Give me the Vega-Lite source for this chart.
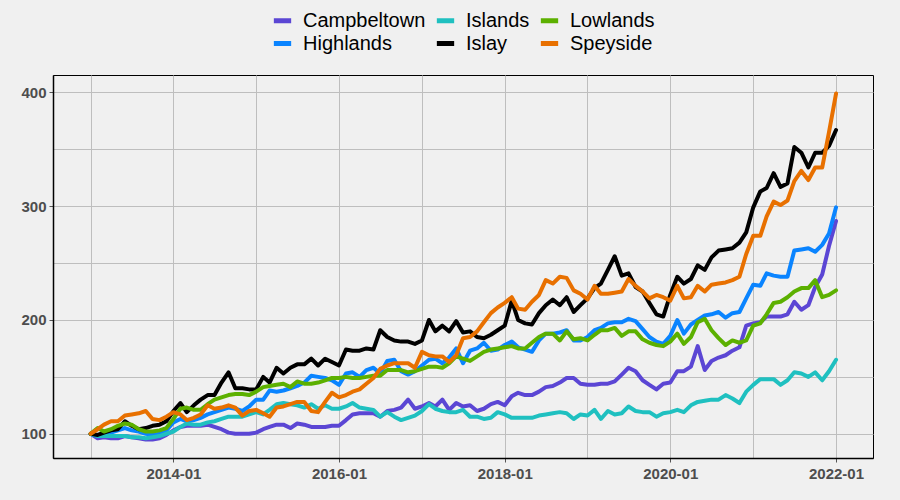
{
"$schema": "https://vega.github.io/schema/vega-lite/v6.json",
"width": 820,
"height": 383,
"autosize": {"type": "none"},
"padding": {"left": 53, "top": 75, "right": 27, "bottom": 42},
"background": "#F0F0F0",
"config": {
  "view": {"stroke": "black", "strokeWidth": 1},
  "font": "Liberation Sans",
  "axis": {"labelFont": "Liberation Sans", "labelFontWeight": "bold", "labelColor": "#4D4D4D", "labelFontSize": 15, "gridColor": "#BEBEBE", "gridWidth": 1, "domainColor": "black", "domainWidth": 1.5, "tickColor": "#555555", "tickSize": 4, "title": null}
},
"data": {"values": [
{"month":"2013-01","region":"Campbeltown","index":100},{"month":"2013-02","region":"Campbeltown","index":96},{"month":"2013-03","region":"Campbeltown","index":97},{"month":"2013-04","region":"Campbeltown","index":96},{"month":"2013-05","region":"Campbeltown","index":96},{"month":"2013-06","region":"Campbeltown","index":98},{"month":"2013-07","region":"Campbeltown","index":97},{"month":"2013-08","region":"Campbeltown","index":96},{"month":"2013-09","region":"Campbeltown","index":95},{"month":"2013-10","region":"Campbeltown","index":95},{"month":"2013-11","region":"Campbeltown","index":96},{"month":"2013-12","region":"Campbeltown","index":99},
{"month":"2014-01","region":"Campbeltown","index":103},{"month":"2014-02","region":"Campbeltown","index":106},{"month":"2014-03","region":"Campbeltown","index":107},{"month":"2014-04","region":"Campbeltown","index":107},{"month":"2014-05","region":"Campbeltown","index":107},{"month":"2014-06","region":"Campbeltown","index":108},{"month":"2014-07","region":"Campbeltown","index":106},{"month":"2014-08","region":"Campbeltown","index":104},{"month":"2014-09","region":"Campbeltown","index":101},{"month":"2014-10","region":"Campbeltown","index":100},{"month":"2014-11","region":"Campbeltown","index":100},{"month":"2014-12","region":"Campbeltown","index":100},
{"month":"2015-01","region":"Campbeltown","index":101},{"month":"2015-02","region":"Campbeltown","index":104},{"month":"2015-03","region":"Campbeltown","index":106},{"month":"2015-04","region":"Campbeltown","index":108},{"month":"2015-05","region":"Campbeltown","index":108},{"month":"2015-06","region":"Campbeltown","index":105},{"month":"2015-07","region":"Campbeltown","index":109},{"month":"2015-08","region":"Campbeltown","index":108},{"month":"2015-09","region":"Campbeltown","index":106},{"month":"2015-10","region":"Campbeltown","index":106},{"month":"2015-11","region":"Campbeltown","index":106},{"month":"2015-12","region":"Campbeltown","index":107},
{"month":"2016-01","region":"Campbeltown","index":107},{"month":"2016-02","region":"Campbeltown","index":112},{"month":"2016-03","region":"Campbeltown","index":117},{"month":"2016-04","region":"Campbeltown","index":118},{"month":"2016-05","region":"Campbeltown","index":118},{"month":"2016-06","region":"Campbeltown","index":118},{"month":"2016-07","region":"Campbeltown","index":115},{"month":"2016-08","region":"Campbeltown","index":120},{"month":"2016-09","region":"Campbeltown","index":121},{"month":"2016-10","region":"Campbeltown","index":123},{"month":"2016-11","region":"Campbeltown","index":130},{"month":"2016-12","region":"Campbeltown","index":122},
{"month":"2017-01","region":"Campbeltown","index":124},{"month":"2017-02","region":"Campbeltown","index":127},{"month":"2017-03","region":"Campbeltown","index":124},{"month":"2017-04","region":"Campbeltown","index":130},{"month":"2017-05","region":"Campbeltown","index":121},{"month":"2017-06","region":"Campbeltown","index":127},{"month":"2017-07","region":"Campbeltown","index":124},{"month":"2017-08","region":"Campbeltown","index":125},{"month":"2017-09","region":"Campbeltown","index":120},{"month":"2017-10","region":"Campbeltown","index":122},{"month":"2017-11","region":"Campbeltown","index":126},{"month":"2017-12","region":"Campbeltown","index":128},
{"month":"2018-01","region":"Campbeltown","index":125},{"month":"2018-02","region":"Campbeltown","index":133},{"month":"2018-03","region":"Campbeltown","index":136},{"month":"2018-04","region":"Campbeltown","index":134},{"month":"2018-05","region":"Campbeltown","index":134},{"month":"2018-06","region":"Campbeltown","index":137},{"month":"2018-07","region":"Campbeltown","index":141},{"month":"2018-08","region":"Campbeltown","index":142},{"month":"2018-09","region":"Campbeltown","index":145},{"month":"2018-10","region":"Campbeltown","index":149},{"month":"2018-11","region":"Campbeltown","index":149},{"month":"2018-12","region":"Campbeltown","index":144},
{"month":"2019-01","region":"Campbeltown","index":143},{"month":"2019-02","region":"Campbeltown","index":143},{"month":"2019-03","region":"Campbeltown","index":144},{"month":"2019-04","region":"Campbeltown","index":144},{"month":"2019-05","region":"Campbeltown","index":146},{"month":"2019-06","region":"Campbeltown","index":152},{"month":"2019-07","region":"Campbeltown","index":158},{"month":"2019-08","region":"Campbeltown","index":155},{"month":"2019-09","region":"Campbeltown","index":147},{"month":"2019-10","region":"Campbeltown","index":143},{"month":"2019-11","region":"Campbeltown","index":139},{"month":"2019-12","region":"Campbeltown","index":144},
{"month":"2020-01","region":"Campbeltown","index":145},{"month":"2020-02","region":"Campbeltown","index":155},{"month":"2020-03","region":"Campbeltown","index":155},{"month":"2020-04","region":"Campbeltown","index":159},{"month":"2020-05","region":"Campbeltown","index":177},{"month":"2020-06","region":"Campbeltown","index":156},{"month":"2020-07","region":"Campbeltown","index":164},{"month":"2020-08","region":"Campbeltown","index":167},{"month":"2020-09","region":"Campbeltown","index":169},{"month":"2020-10","region":"Campbeltown","index":173},{"month":"2020-11","region":"Campbeltown","index":176},{"month":"2020-12","region":"Campbeltown","index":195},
{"month":"2021-01","region":"Campbeltown","index":197},{"month":"2021-02","region":"Campbeltown","index":198},{"month":"2021-03","region":"Campbeltown","index":203},{"month":"2021-04","region":"Campbeltown","index":203},{"month":"2021-05","region":"Campbeltown","index":203},{"month":"2021-06","region":"Campbeltown","index":205},{"month":"2021-07","region":"Campbeltown","index":216},{"month":"2021-08","region":"Campbeltown","index":209},{"month":"2021-09","region":"Campbeltown","index":213},{"month":"2021-10","region":"Campbeltown","index":229},{"month":"2021-11","region":"Campbeltown","index":240},{"month":"2021-12","region":"Campbeltown","index":265},
{"month":"2022-01","region":"Campbeltown","index":287},
{"month":"2013-01","region":"Highlands","index":100},{"month":"2013-02","region":"Highlands","index":98},{"month":"2013-03","region":"Highlands","index":98},{"month":"2013-04","region":"Highlands","index":101},{"month":"2013-05","region":"Highlands","index":103},{"month":"2013-06","region":"Highlands","index":105},{"month":"2013-07","region":"Highlands","index":103},{"month":"2013-08","region":"Highlands","index":102},{"month":"2013-09","region":"Highlands","index":100},{"month":"2013-10","region":"Highlands","index":99},{"month":"2013-11","region":"Highlands","index":100},{"month":"2013-12","region":"Highlands","index":103},
{"month":"2014-01","region":"Highlands","index":110},{"month":"2014-02","region":"Highlands","index":113},{"month":"2014-03","region":"Highlands","index":111},{"month":"2014-04","region":"Highlands","index":112},{"month":"2014-05","region":"Highlands","index":114},{"month":"2014-06","region":"Highlands","index":117},{"month":"2014-07","region":"Highlands","index":119},{"month":"2014-08","region":"Highlands","index":121},{"month":"2014-09","region":"Highlands","index":123},{"month":"2014-10","region":"Highlands","index":122},{"month":"2014-11","region":"Highlands","index":120},{"month":"2014-12","region":"Highlands","index":124},
{"month":"2015-01","region":"Highlands","index":130},{"month":"2015-02","region":"Highlands","index":130},{"month":"2015-03","region":"Highlands","index":138},{"month":"2015-04","region":"Highlands","index":137},{"month":"2015-05","region":"Highlands","index":138},{"month":"2015-06","region":"Highlands","index":140},{"month":"2015-07","region":"Highlands","index":142},{"month":"2015-08","region":"Highlands","index":145},{"month":"2015-09","region":"Highlands","index":151},{"month":"2015-10","region":"Highlands","index":150},{"month":"2015-11","region":"Highlands","index":149},{"month":"2015-12","region":"Highlands","index":147},
{"month":"2016-01","region":"Highlands","index":143},{"month":"2016-02","region":"Highlands","index":153},{"month":"2016-03","region":"Highlands","index":154},{"month":"2016-04","region":"Highlands","index":150},{"month":"2016-05","region":"Highlands","index":156},{"month":"2016-06","region":"Highlands","index":158},{"month":"2016-07","region":"Highlands","index":153},{"month":"2016-08","region":"Highlands","index":164},{"month":"2016-09","region":"Highlands","index":165},{"month":"2016-10","region":"Highlands","index":155},{"month":"2016-11","region":"Highlands","index":152},{"month":"2016-12","region":"Highlands","index":155},
{"month":"2017-01","region":"Highlands","index":160},{"month":"2017-02","region":"Highlands","index":165},{"month":"2017-03","region":"Highlands","index":166},{"month":"2017-04","region":"Highlands","index":162},{"month":"2017-05","region":"Highlands","index":167},{"month":"2017-06","region":"Highlands","index":175},{"month":"2017-07","region":"Highlands","index":162},{"month":"2017-08","region":"Highlands","index":173},{"month":"2017-09","region":"Highlands","index":175},{"month":"2017-10","region":"Highlands","index":180},{"month":"2017-11","region":"Highlands","index":173},{"month":"2017-12","region":"Highlands","index":174},
{"month":"2018-01","region":"Highlands","index":178},{"month":"2018-02","region":"Highlands","index":181},{"month":"2018-03","region":"Highlands","index":176},{"month":"2018-04","region":"Highlands","index":174},{"month":"2018-05","region":"Highlands","index":172},{"month":"2018-06","region":"Highlands","index":182},{"month":"2018-07","region":"Highlands","index":188},{"month":"2018-08","region":"Highlands","index":188},{"month":"2018-09","region":"Highlands","index":189},{"month":"2018-10","region":"Highlands","index":191},{"month":"2018-11","region":"Highlands","index":182},{"month":"2018-12","region":"Highlands","index":182},
{"month":"2019-01","region":"Highlands","index":185},{"month":"2019-02","region":"Highlands","index":191},{"month":"2019-03","region":"Highlands","index":193},{"month":"2019-04","region":"Highlands","index":197},{"month":"2019-05","region":"Highlands","index":198},{"month":"2019-06","region":"Highlands","index":198},{"month":"2019-07","region":"Highlands","index":201},{"month":"2019-08","region":"Highlands","index":199},{"month":"2019-09","region":"Highlands","index":192},{"month":"2019-10","region":"Highlands","index":185},{"month":"2019-11","region":"Highlands","index":181},{"month":"2019-12","region":"Highlands","index":179},
{"month":"2020-01","region":"Highlands","index":186},{"month":"2020-02","region":"Highlands","index":200},{"month":"2020-03","region":"Highlands","index":188},{"month":"2020-04","region":"Highlands","index":196},{"month":"2020-05","region":"Highlands","index":200},{"month":"2020-06","region":"Highlands","index":204},{"month":"2020-07","region":"Highlands","index":205},{"month":"2020-08","region":"Highlands","index":207},{"month":"2020-09","region":"Highlands","index":202},{"month":"2020-10","region":"Highlands","index":206},{"month":"2020-11","region":"Highlands","index":207},{"month":"2020-12","region":"Highlands","index":219},
{"month":"2021-01","region":"Highlands","index":231},{"month":"2021-02","region":"Highlands","index":230},{"month":"2021-03","region":"Highlands","index":241},{"month":"2021-04","region":"Highlands","index":239},{"month":"2021-05","region":"Highlands","index":238},{"month":"2021-06","region":"Highlands","index":238},{"month":"2021-07","region":"Highlands","index":261},{"month":"2021-08","region":"Highlands","index":262},{"month":"2021-09","region":"Highlands","index":263},{"month":"2021-10","region":"Highlands","index":260},{"month":"2021-11","region":"Highlands","index":266},{"month":"2021-12","region":"Highlands","index":276},
{"month":"2022-01","region":"Highlands","index":299},
{"month":"2013-01","region":"Islands","index":100},{"month":"2013-02","region":"Islands","index":98},{"month":"2013-03","region":"Islands","index":98},{"month":"2013-04","region":"Islands","index":98},{"month":"2013-05","region":"Islands","index":98},{"month":"2013-06","region":"Islands","index":98},{"month":"2013-07","region":"Islands","index":97},{"month":"2013-08","region":"Islands","index":97},{"month":"2013-09","region":"Islands","index":96},{"month":"2013-10","region":"Islands","index":97},{"month":"2013-11","region":"Islands","index":98},{"month":"2013-12","region":"Islands","index":100},
{"month":"2014-01","region":"Islands","index":102},{"month":"2014-02","region":"Islands","index":106},{"month":"2014-03","region":"Islands","index":109},{"month":"2014-04","region":"Islands","index":108},{"month":"2014-05","region":"Islands","index":108},{"month":"2014-06","region":"Islands","index":110},{"month":"2014-07","region":"Islands","index":111},{"month":"2014-08","region":"Islands","index":113},{"month":"2014-09","region":"Islands","index":115},{"month":"2014-10","region":"Islands","index":115},{"month":"2014-11","region":"Islands","index":115},{"month":"2014-12","region":"Islands","index":117},
{"month":"2015-01","region":"Islands","index":119},{"month":"2015-02","region":"Islands","index":117},{"month":"2015-03","region":"Islands","index":121},{"month":"2015-04","region":"Islands","index":126},{"month":"2015-05","region":"Islands","index":127},{"month":"2015-06","region":"Islands","index":126},{"month":"2015-07","region":"Islands","index":125},{"month":"2015-08","region":"Islands","index":123},{"month":"2015-09","region":"Islands","index":126},{"month":"2015-10","region":"Islands","index":122},{"month":"2015-11","region":"Islands","index":125},{"month":"2015-12","region":"Islands","index":122},
{"month":"2016-01","region":"Islands","index":122},{"month":"2016-02","region":"Islands","index":124},{"month":"2016-03","region":"Islands","index":127},{"month":"2016-04","region":"Islands","index":123},{"month":"2016-05","region":"Islands","index":122},{"month":"2016-06","region":"Islands","index":121},{"month":"2016-07","region":"Islands","index":115},{"month":"2016-08","region":"Islands","index":119},{"month":"2016-09","region":"Islands","index":115},{"month":"2016-10","region":"Islands","index":112},{"month":"2016-11","region":"Islands","index":114},{"month":"2016-12","region":"Islands","index":116},
{"month":"2017-01","region":"Islands","index":120},{"month":"2017-02","region":"Islands","index":126},{"month":"2017-03","region":"Islands","index":122},{"month":"2017-04","region":"Islands","index":120},{"month":"2017-05","region":"Islands","index":119},{"month":"2017-06","region":"Islands","index":119},{"month":"2017-07","region":"Islands","index":121},{"month":"2017-08","region":"Islands","index":115},{"month":"2017-09","region":"Islands","index":115},{"month":"2017-10","region":"Islands","index":113},{"month":"2017-11","region":"Islands","index":114},{"month":"2017-12","region":"Islands","index":119},
{"month":"2018-01","region":"Islands","index":117},{"month":"2018-02","region":"Islands","index":114},{"month":"2018-03","region":"Islands","index":114},{"month":"2018-04","region":"Islands","index":114},{"month":"2018-05","region":"Islands","index":114},{"month":"2018-06","region":"Islands","index":116},{"month":"2018-07","region":"Islands","index":117},{"month":"2018-08","region":"Islands","index":118},{"month":"2018-09","region":"Islands","index":119},{"month":"2018-10","region":"Islands","index":118},{"month":"2018-11","region":"Islands","index":113},{"month":"2018-12","region":"Islands","index":117},
{"month":"2019-01","region":"Islands","index":116},{"month":"2019-02","region":"Islands","index":121},{"month":"2019-03","region":"Islands","index":113},{"month":"2019-04","region":"Islands","index":120},{"month":"2019-05","region":"Islands","index":117},{"month":"2019-06","region":"Islands","index":118},{"month":"2019-07","region":"Islands","index":124},{"month":"2019-08","region":"Islands","index":120},{"month":"2019-09","region":"Islands","index":119},{"month":"2019-10","region":"Islands","index":119},{"month":"2019-11","region":"Islands","index":115},{"month":"2019-12","region":"Islands","index":118},
{"month":"2020-01","region":"Islands","index":119},{"month":"2020-02","region":"Islands","index":121},{"month":"2020-03","region":"Islands","index":119},{"month":"2020-04","region":"Islands","index":125},{"month":"2020-05","region":"Islands","index":128},{"month":"2020-06","region":"Islands","index":129},{"month":"2020-07","region":"Islands","index":130},{"month":"2020-08","region":"Islands","index":130},{"month":"2020-09","region":"Islands","index":134},{"month":"2020-10","region":"Islands","index":131},{"month":"2020-11","region":"Islands","index":127},{"month":"2020-12","region":"Islands","index":137},
{"month":"2021-01","region":"Islands","index":143},{"month":"2021-02","region":"Islands","index":148},{"month":"2021-03","region":"Islands","index":148},{"month":"2021-04","region":"Islands","index":148},{"month":"2021-05","region":"Islands","index":143},{"month":"2021-06","region":"Islands","index":147},{"month":"2021-07","region":"Islands","index":154},{"month":"2021-08","region":"Islands","index":153},{"month":"2021-09","region":"Islands","index":150},{"month":"2021-10","region":"Islands","index":154},{"month":"2021-11","region":"Islands","index":147},{"month":"2021-12","region":"Islands","index":155},
{"month":"2022-01","region":"Islands","index":165},
{"month":"2013-01","region":"Islay","index":100},{"month":"2013-02","region":"Islay","index":99},{"month":"2013-03","region":"Islay","index":101},{"month":"2013-04","region":"Islay","index":103},{"month":"2013-05","region":"Islay","index":104},{"month":"2013-06","region":"Islay","index":111},{"month":"2013-07","region":"Islay","index":107},{"month":"2013-08","region":"Islay","index":104},{"month":"2013-09","region":"Islay","index":105},{"month":"2013-10","region":"Islay","index":107},{"month":"2013-11","region":"Islay","index":108},{"month":"2013-12","region":"Islay","index":111},
{"month":"2014-01","region":"Islay","index":120},{"month":"2014-02","region":"Islay","index":127},{"month":"2014-03","region":"Islay","index":119},{"month":"2014-04","region":"Islay","index":125},{"month":"2014-05","region":"Islay","index":130},{"month":"2014-06","region":"Islay","index":134},{"month":"2014-07","region":"Islay","index":134},{"month":"2014-08","region":"Islay","index":145},{"month":"2014-09","region":"Islay","index":154},{"month":"2014-10","region":"Islay","index":140},{"month":"2014-11","region":"Islay","index":140},{"month":"2014-12","region":"Islay","index":139},
{"month":"2015-01","region":"Islay","index":139},{"month":"2015-02","region":"Islay","index":150},{"month":"2015-03","region":"Islay","index":145},{"month":"2015-04","region":"Islay","index":158},{"month":"2015-05","region":"Islay","index":153},{"month":"2015-06","region":"Islay","index":158},{"month":"2015-07","region":"Islay","index":161},{"month":"2015-08","region":"Islay","index":161},{"month":"2015-09","region":"Islay","index":166},{"month":"2015-10","region":"Islay","index":160},{"month":"2015-11","region":"Islay","index":166},{"month":"2015-12","region":"Islay","index":163},
{"month":"2016-01","region":"Islay","index":160},{"month":"2016-02","region":"Islay","index":174},{"month":"2016-03","region":"Islay","index":173},{"month":"2016-04","region":"Islay","index":173},{"month":"2016-05","region":"Islay","index":175},{"month":"2016-06","region":"Islay","index":174},{"month":"2016-07","region":"Islay","index":191},{"month":"2016-08","region":"Islay","index":185},{"month":"2016-09","region":"Islay","index":182},{"month":"2016-10","region":"Islay","index":181},{"month":"2016-11","region":"Islay","index":181},{"month":"2016-12","region":"Islay","index":179},
{"month":"2017-01","region":"Islay","index":182},{"month":"2017-02","region":"Islay","index":200},{"month":"2017-03","region":"Islay","index":190},{"month":"2017-04","region":"Islay","index":195},{"month":"2017-05","region":"Islay","index":190},{"month":"2017-06","region":"Islay","index":199},{"month":"2017-07","region":"Islay","index":189},{"month":"2017-08","region":"Islay","index":190},{"month":"2017-09","region":"Islay","index":185},{"month":"2017-10","region":"Islay","index":184},{"month":"2017-11","region":"Islay","index":187},{"month":"2017-12","region":"Islay","index":191},
{"month":"2018-01","region":"Islay","index":195},{"month":"2018-02","region":"Islay","index":217},{"month":"2018-03","region":"Islay","index":200},{"month":"2018-04","region":"Islay","index":197},{"month":"2018-05","region":"Islay","index":196},{"month":"2018-06","region":"Islay","index":206},{"month":"2018-07","region":"Islay","index":213},{"month":"2018-08","region":"Islay","index":218},{"month":"2018-09","region":"Islay","index":213},{"month":"2018-10","region":"Islay","index":220},{"month":"2018-11","region":"Islay","index":207},{"month":"2018-12","region":"Islay","index":213},
{"month":"2019-01","region":"Islay","index":219},{"month":"2019-02","region":"Islay","index":228},{"month":"2019-03","region":"Islay","index":232},{"month":"2019-04","region":"Islay","index":244},{"month":"2019-05","region":"Islay","index":256},{"month":"2019-06","region":"Islay","index":239},{"month":"2019-07","region":"Islay","index":241},{"month":"2019-08","region":"Islay","index":229},{"month":"2019-09","region":"Islay","index":225},{"month":"2019-10","region":"Islay","index":215},{"month":"2019-11","region":"Islay","index":205},{"month":"2019-12","region":"Islay","index":203},
{"month":"2020-01","region":"Islay","index":222},{"month":"2020-02","region":"Islay","index":238},{"month":"2020-03","region":"Islay","index":232},{"month":"2020-04","region":"Islay","index":236},{"month":"2020-05","region":"Islay","index":248},{"month":"2020-06","region":"Islay","index":244},{"month":"2020-07","region":"Islay","index":255},{"month":"2020-08","region":"Islay","index":261},{"month":"2020-09","region":"Islay","index":262},{"month":"2020-10","region":"Islay","index":263},{"month":"2020-11","region":"Islay","index":268},{"month":"2020-12","region":"Islay","index":277},
{"month":"2021-01","region":"Islay","index":299},{"month":"2021-02","region":"Islay","index":313},{"month":"2021-03","region":"Islay","index":316},{"month":"2021-04","region":"Islay","index":329},{"month":"2021-05","region":"Islay","index":317},{"month":"2021-06","region":"Islay","index":320},{"month":"2021-07","region":"Islay","index":352},{"month":"2021-08","region":"Islay","index":347},{"month":"2021-09","region":"Islay","index":334},{"month":"2021-10","region":"Islay","index":347},{"month":"2021-11","region":"Islay","index":347},{"month":"2021-12","region":"Islay","index":353},
{"month":"2022-01","region":"Islay","index":367},
{"month":"2013-01","region":"Lowlands","index":100},{"month":"2013-02","region":"Lowlands","index":105},{"month":"2013-03","region":"Lowlands","index":102},{"month":"2013-04","region":"Lowlands","index":104},{"month":"2013-05","region":"Lowlands","index":107},{"month":"2013-06","region":"Lowlands","index":109},{"month":"2013-07","region":"Lowlands","index":108},{"month":"2013-08","region":"Lowlands","index":104},{"month":"2013-09","region":"Lowlands","index":102},{"month":"2013-10","region":"Lowlands","index":102},{"month":"2013-11","region":"Lowlands","index":103},{"month":"2013-12","region":"Lowlands","index":105},
{"month":"2014-01","region":"Lowlands","index":113},{"month":"2014-02","region":"Lowlands","index":122},{"month":"2014-03","region":"Lowlands","index":123},{"month":"2014-04","region":"Lowlands","index":121},{"month":"2014-05","region":"Lowlands","index":121},{"month":"2014-06","region":"Lowlands","index":126},{"month":"2014-07","region":"Lowlands","index":130},{"month":"2014-08","region":"Lowlands","index":132},{"month":"2014-09","region":"Lowlands","index":134},{"month":"2014-10","region":"Lowlands","index":135},{"month":"2014-11","region":"Lowlands","index":135},{"month":"2014-12","region":"Lowlands","index":134},
{"month":"2015-01","region":"Lowlands","index":137},{"month":"2015-02","region":"Lowlands","index":141},{"month":"2015-03","region":"Lowlands","index":142},{"month":"2015-04","region":"Lowlands","index":143},{"month":"2015-05","region":"Lowlands","index":144},{"month":"2015-06","region":"Lowlands","index":141},{"month":"2015-07","region":"Lowlands","index":146},{"month":"2015-08","region":"Lowlands","index":144},{"month":"2015-09","region":"Lowlands","index":144},{"month":"2015-10","region":"Lowlands","index":145},{"month":"2015-11","region":"Lowlands","index":147},{"month":"2015-12","region":"Lowlands","index":149},
{"month":"2016-01","region":"Lowlands","index":149},{"month":"2016-02","region":"Lowlands","index":150},{"month":"2016-03","region":"Lowlands","index":149},{"month":"2016-04","region":"Lowlands","index":149},{"month":"2016-05","region":"Lowlands","index":150},{"month":"2016-06","region":"Lowlands","index":151},{"month":"2016-07","region":"Lowlands","index":151},{"month":"2016-08","region":"Lowlands","index":156},{"month":"2016-09","region":"Lowlands","index":156},{"month":"2016-10","region":"Lowlands","index":156},{"month":"2016-11","region":"Lowlands","index":154},{"month":"2016-12","region":"Lowlands","index":155},
{"month":"2017-01","region":"Lowlands","index":157},{"month":"2017-02","region":"Lowlands","index":159},{"month":"2017-03","region":"Lowlands","index":159},{"month":"2017-04","region":"Lowlands","index":158},{"month":"2017-05","region":"Lowlands","index":162},{"month":"2017-06","region":"Lowlands","index":168},{"month":"2017-07","region":"Lowlands","index":166},{"month":"2017-08","region":"Lowlands","index":164},{"month":"2017-09","region":"Lowlands","index":168},{"month":"2017-10","region":"Lowlands","index":172},{"month":"2017-11","region":"Lowlands","index":174},{"month":"2017-12","region":"Lowlands","index":175},
{"month":"2018-01","region":"Lowlands","index":176},{"month":"2018-02","region":"Lowlands","index":177},{"month":"2018-03","region":"Lowlands","index":175},{"month":"2018-04","region":"Lowlands","index":175},{"month":"2018-05","region":"Lowlands","index":180},{"month":"2018-06","region":"Lowlands","index":185},{"month":"2018-07","region":"Lowlands","index":188},{"month":"2018-08","region":"Lowlands","index":188},{"month":"2018-09","region":"Lowlands","index":182},{"month":"2018-10","region":"Lowlands","index":190},{"month":"2018-11","region":"Lowlands","index":183},{"month":"2018-12","region":"Lowlands","index":184},
{"month":"2019-01","region":"Lowlands","index":182},{"month":"2019-02","region":"Lowlands","index":187},{"month":"2019-03","region":"Lowlands","index":191},{"month":"2019-04","region":"Lowlands","index":191},{"month":"2019-05","region":"Lowlands","index":193},{"month":"2019-06","region":"Lowlands","index":186},{"month":"2019-07","region":"Lowlands","index":190},{"month":"2019-08","region":"Lowlands","index":190},{"month":"2019-09","region":"Lowlands","index":183},{"month":"2019-10","region":"Lowlands","index":180},{"month":"2019-11","region":"Lowlands","index":178},{"month":"2019-12","region":"Lowlands","index":177},
{"month":"2020-01","region":"Lowlands","index":181},{"month":"2020-02","region":"Lowlands","index":188},{"month":"2020-03","region":"Lowlands","index":179},{"month":"2020-04","region":"Lowlands","index":185},{"month":"2020-05","region":"Lowlands","index":198},{"month":"2020-06","region":"Lowlands","index":201},{"month":"2020-07","region":"Lowlands","index":191},{"month":"2020-08","region":"Lowlands","index":184},{"month":"2020-09","region":"Lowlands","index":178},{"month":"2020-10","region":"Lowlands","index":182},{"month":"2020-11","region":"Lowlands","index":180},{"month":"2020-12","region":"Lowlands","index":182},
{"month":"2021-01","region":"Lowlands","index":195},{"month":"2021-02","region":"Lowlands","index":197},{"month":"2021-03","region":"Lowlands","index":205},{"month":"2021-04","region":"Lowlands","index":215},{"month":"2021-05","region":"Lowlands","index":216},{"month":"2021-06","region":"Lowlands","index":220},{"month":"2021-07","region":"Lowlands","index":225},{"month":"2021-08","region":"Lowlands","index":228},{"month":"2021-09","region":"Lowlands","index":228},{"month":"2021-10","region":"Lowlands","index":235},{"month":"2021-11","region":"Lowlands","index":220},{"month":"2021-12","region":"Lowlands","index":222},
{"month":"2022-01","region":"Lowlands","index":226},
{"month":"2013-01","region":"Speyside","index":100},{"month":"2013-02","region":"Speyside","index":104},{"month":"2013-03","region":"Speyside","index":108},{"month":"2013-04","region":"Speyside","index":111},{"month":"2013-05","region":"Speyside","index":111},{"month":"2013-06","region":"Speyside","index":116},{"month":"2013-07","region":"Speyside","index":117},{"month":"2013-08","region":"Speyside","index":118},{"month":"2013-09","region":"Speyside","index":120},{"month":"2013-10","region":"Speyside","index":113},{"month":"2013-11","region":"Speyside","index":112},{"month":"2013-12","region":"Speyside","index":115},
{"month":"2014-01","region":"Speyside","index":119},{"month":"2014-02","region":"Speyside","index":117},{"month":"2014-03","region":"Speyside","index":112},{"month":"2014-04","region":"Speyside","index":114},{"month":"2014-05","region":"Speyside","index":117},{"month":"2014-06","region":"Speyside","index":125},{"month":"2014-07","region":"Speyside","index":122},{"month":"2014-08","region":"Speyside","index":123},{"month":"2014-09","region":"Speyside","index":125},{"month":"2014-10","region":"Speyside","index":123},{"month":"2014-11","region":"Speyside","index":116},{"month":"2014-12","region":"Speyside","index":120},
{"month":"2015-01","region":"Speyside","index":121},{"month":"2015-02","region":"Speyside","index":118},{"month":"2015-03","region":"Speyside","index":115},{"month":"2015-04","region":"Speyside","index":123},{"month":"2015-05","region":"Speyside","index":124},{"month":"2015-06","region":"Speyside","index":126},{"month":"2015-07","region":"Speyside","index":128},{"month":"2015-08","region":"Speyside","index":128},{"month":"2015-09","region":"Speyside","index":120},{"month":"2015-10","region":"Speyside","index":119},{"month":"2015-11","region":"Speyside","index":128},{"month":"2015-12","region":"Speyside","index":136},
{"month":"2016-01","region":"Speyside","index":132},{"month":"2016-02","region":"Speyside","index":134},{"month":"2016-03","region":"Speyside","index":137},{"month":"2016-04","region":"Speyside","index":139},{"month":"2016-05","region":"Speyside","index":144},{"month":"2016-06","region":"Speyside","index":149},{"month":"2016-07","region":"Speyside","index":157},{"month":"2016-08","region":"Speyside","index":160},{"month":"2016-09","region":"Speyside","index":162},{"month":"2016-10","region":"Speyside","index":162},{"month":"2016-11","region":"Speyside","index":162},{"month":"2016-12","region":"Speyside","index":158},
{"month":"2017-01","region":"Speyside","index":172},{"month":"2017-02","region":"Speyside","index":169},{"month":"2017-03","region":"Speyside","index":168},{"month":"2017-04","region":"Speyside","index":168},{"month":"2017-05","region":"Speyside","index":163},{"month":"2017-06","region":"Speyside","index":169},{"month":"2017-07","region":"Speyside","index":184},{"month":"2017-08","region":"Speyside","index":185},{"month":"2017-09","region":"Speyside","index":190},{"month":"2017-10","region":"Speyside","index":198},{"month":"2017-11","region":"Speyside","index":206},{"month":"2017-12","region":"Speyside","index":211},
{"month":"2018-01","region":"Speyside","index":215},{"month":"2018-02","region":"Speyside","index":220},{"month":"2018-03","region":"Speyside","index":210},{"month":"2018-04","region":"Speyside","index":209},{"month":"2018-05","region":"Speyside","index":216},{"month":"2018-06","region":"Speyside","index":222},{"month":"2018-07","region":"Speyside","index":235},{"month":"2018-08","region":"Speyside","index":232},{"month":"2018-09","region":"Speyside","index":238},{"month":"2018-10","region":"Speyside","index":237},{"month":"2018-11","region":"Speyside","index":226},{"month":"2018-12","region":"Speyside","index":223},
{"month":"2019-01","region":"Speyside","index":218},{"month":"2019-02","region":"Speyside","index":230},{"month":"2019-03","region":"Speyside","index":223},{"month":"2019-04","region":"Speyside","index":223},{"month":"2019-05","region":"Speyside","index":224},{"month":"2019-06","region":"Speyside","index":225},{"month":"2019-07","region":"Speyside","index":236},{"month":"2019-08","region":"Speyside","index":230},{"month":"2019-09","region":"Speyside","index":225},{"month":"2019-10","region":"Speyside","index":219},{"month":"2019-11","region":"Speyside","index":222},{"month":"2019-12","region":"Speyside","index":220},
{"month":"2020-01","region":"Speyside","index":217},{"month":"2020-02","region":"Speyside","index":230},{"month":"2020-03","region":"Speyside","index":219},{"month":"2020-04","region":"Speyside","index":220},{"month":"2020-05","region":"Speyside","index":230},{"month":"2020-06","region":"Speyside","index":225},{"month":"2020-07","region":"Speyside","index":231},{"month":"2020-08","region":"Speyside","index":232},{"month":"2020-09","region":"Speyside","index":233},{"month":"2020-10","region":"Speyside","index":235},{"month":"2020-11","region":"Speyside","index":238},{"month":"2020-12","region":"Speyside","index":258},
{"month":"2021-01","region":"Speyside","index":274},{"month":"2021-02","region":"Speyside","index":274},{"month":"2021-03","region":"Speyside","index":291},{"month":"2021-04","region":"Speyside","index":304},{"month":"2021-05","region":"Speyside","index":301},{"month":"2021-06","region":"Speyside","index":305},{"month":"2021-07","region":"Speyside","index":322},{"month":"2021-08","region":"Speyside","index":331},{"month":"2021-09","region":"Speyside","index":323},{"month":"2021-10","region":"Speyside","index":334},{"month":"2021-11","region":"Speyside","index":334},{"month":"2021-12","region":"Speyside","index":365},
{"month":"2022-01","region":"Speyside","index":399}
]},
"mark": {"type": "line", "strokeWidth": 4, "strokeJoin": "round", "strokeCap": "round"},
"encoding": {
  "x": {"field": "month", "type": "temporal",
    "scale": {"type": "utc", "domain": [{"year": 2012, "month": 7, "date": 19, "utc": true}, {"year": 2022, "month": 6, "date": 13, "utc": true}], "nice": false},
    "axis": {"tickCount": {"interval": "year", "step": 1}, "labelExpr": "utcyear(datum.value) % 2 == 0 ? utcFormat(datum.value, '%Y-%m') : ''", "tickOpacity": {"condition": {"test": "utcyear(datum.value) % 2 == 0", "value": 1}, "value": 0}, "labelPadding": 4, "labelOverlap": false, "labelFlush": false}},
  "y": {"field": "index", "type": "quantitative",
    "scale": {"domain": [78.7, 415.3], "nice": false, "zero": false},
    "axis": {"values": [100, 150, 200, 250, 300, 350, 400], "labelExpr": "datum.value % 100 == 0 ? datum.label : ''", "tickOpacity": {"condition": {"test": "datum.value % 100 == 0", "value": 1}, "value": 0}, "labelPadding": 3}},
  "color": {"field": "region", "type": "nominal",
    "scale": {"domain": ["Campbeltown", "Islands", "Lowlands", "Highlands", "Islay", "Speyside"], "range": ["#5B46D4", "#1FC0C0", "#5CB000", "#0A84FF", "#000000", "#E87000"]},
    "legend": {"orient": "none", "legendX": 218, "legendY": -66, "columns": 3, "title": null, "direction": "horizontal", "symbolType": "stroke", "symbolStrokeWidth": 5, "symbolSize": 300, "labelFontSize": 20, "labelFont": "Liberation Sans", "labelColor": "black", "rowPadding": 1, "columnPadding": 0, "labelOffset": 9, "padding": 0}}
}
}
